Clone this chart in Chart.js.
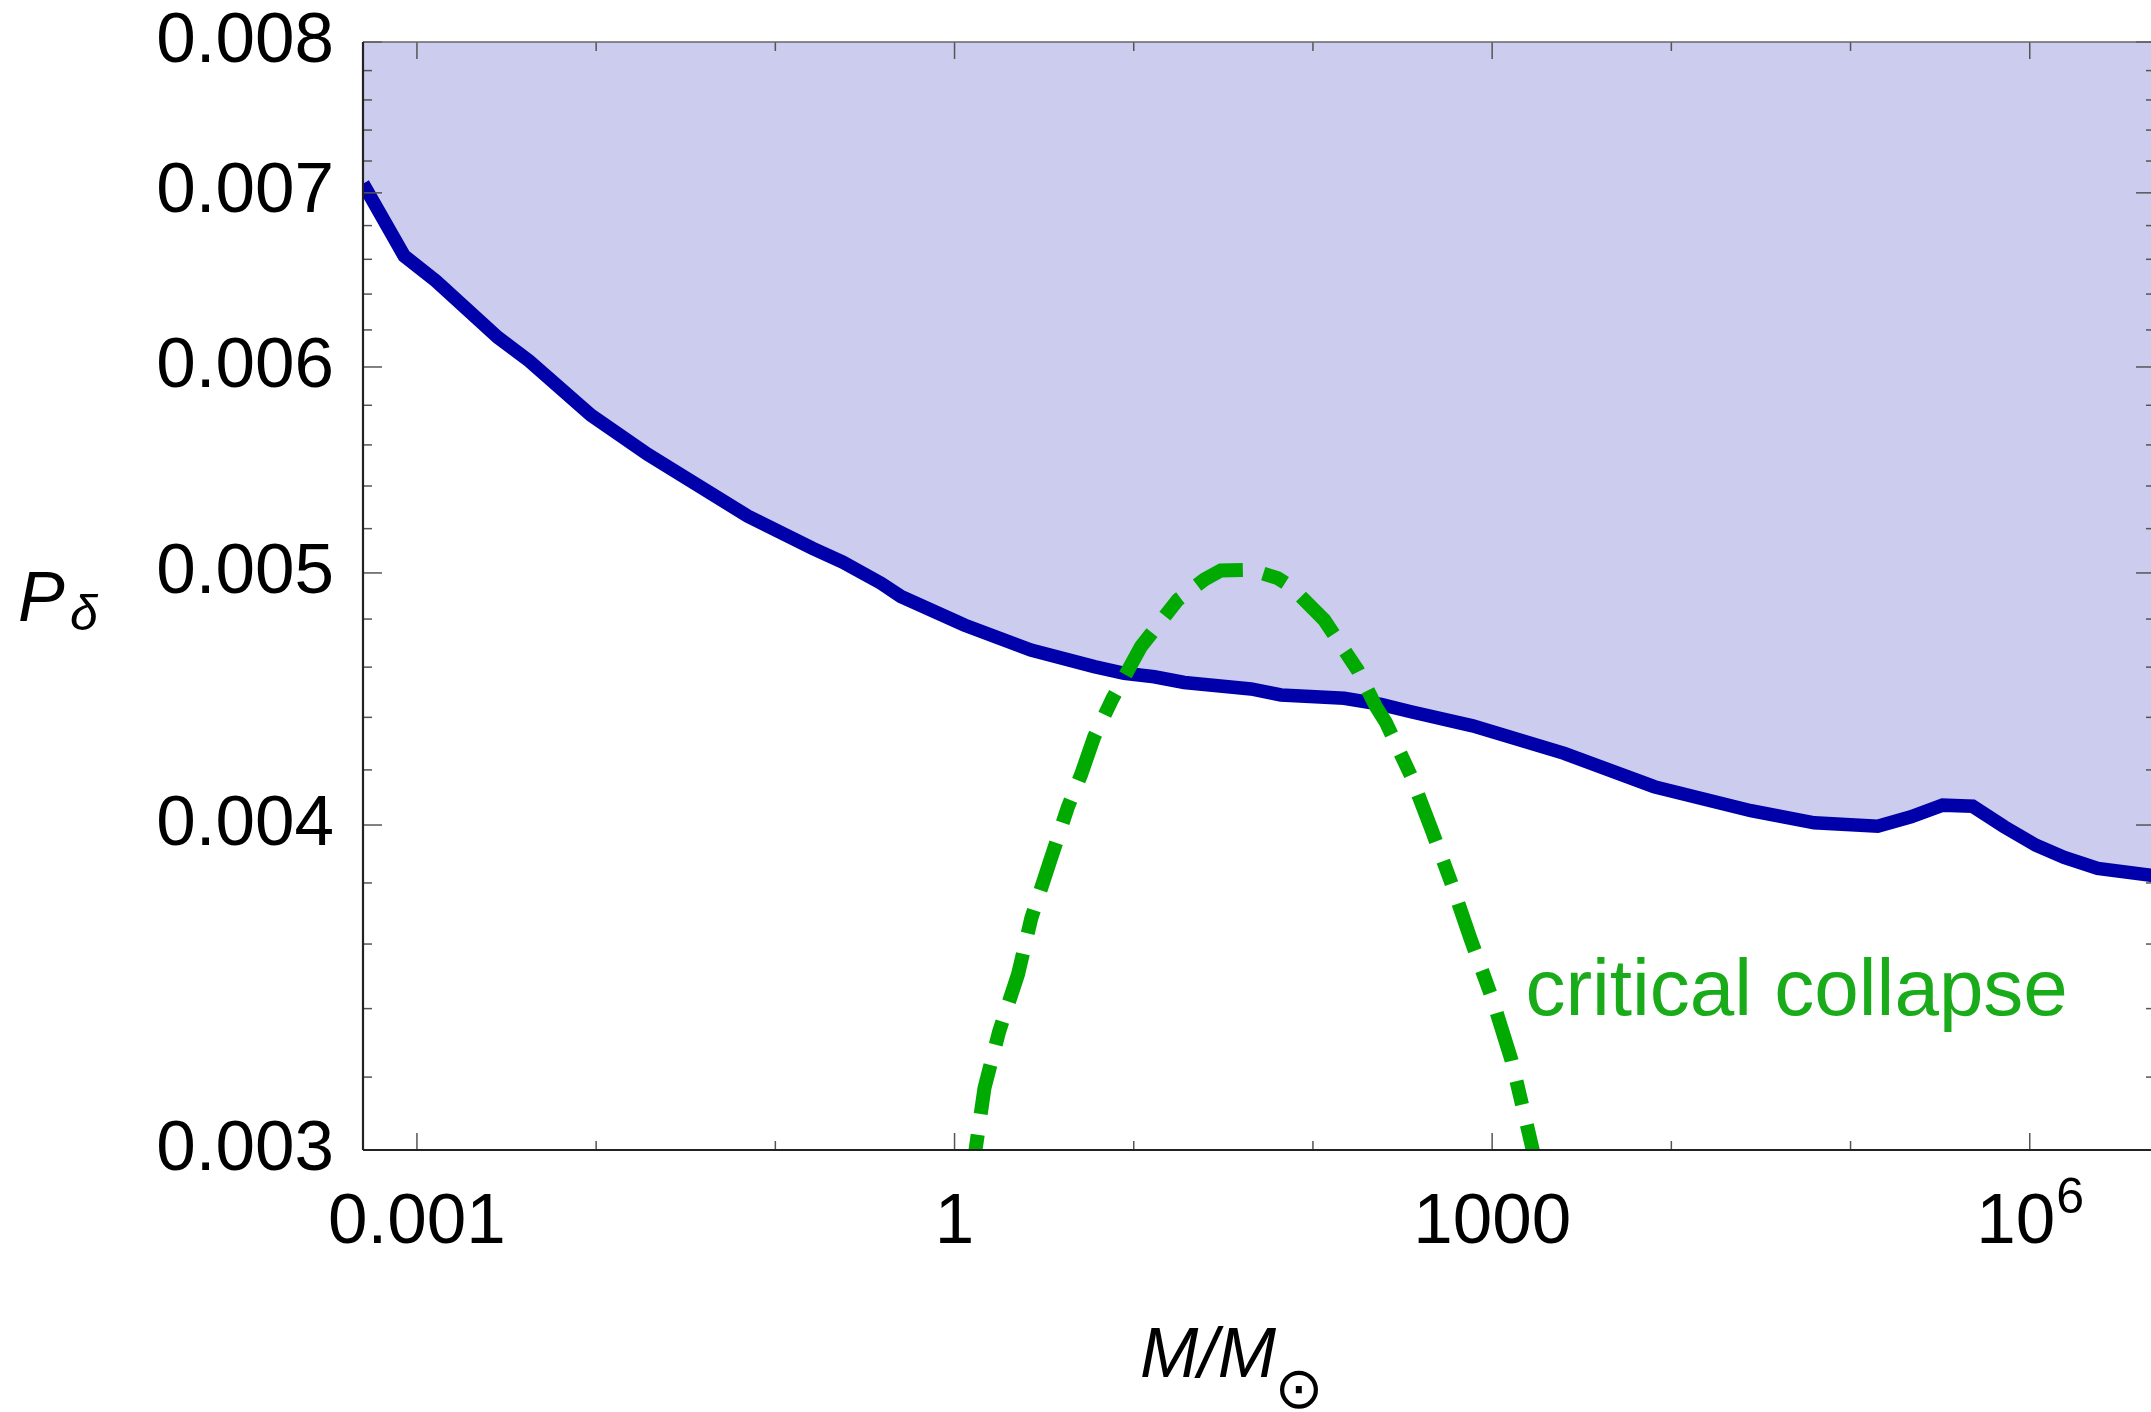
<!DOCTYPE html>
<html>
<head>
<meta charset="utf-8">
<script src="https://cdn.jsdelivr.net/npm/chart.js@4.4.1/dist/chart.umd.min.js"></script>
<style>
  html, body { margin: 0; padding: 0; background: #fff; overflow: hidden; }
  #wrap { width: 2155px; height: 1412px; }
</style>
</head>
<body>
<div id="wrap"><canvas id="chart"></canvas></div>
<script>
// threshold curve (blue, region above it is excluded)
const thresholdMass = [5.0e-4, 8.49e-4, 1.276e-3, 2.82e-3, 4.23e-3, 9.35e-3, 0.01938, 0.03308, 0.07005,
  0.1615, 0.2375, 0.3884, 0.5022, 1.133, 2.669, 6.02, 8.85, 13.02, 19.13, 45.1, 66.3, 149.5, 239.6,
  352.4, 778.3, 2526, 8029, 27810, 62720, 141700, 217300, 326600, 480200, 720500, 1.083e6, 1.558e6,
  2.393e6, 5.0e6];
const thresholdP = [0.007057, 0.006620, 0.006475, 0.006160, 0.006032, 0.005750, 0.005554, 0.005429, 0.005258,
  0.005110, 0.005048, 0.004955, 0.004897, 0.004775, 0.004670, 0.004602, 0.004575, 0.004561, 0.004538,
  0.004512, 0.004488, 0.004475, 0.004451, 0.004422, 0.004367, 0.004262, 0.004138, 0.004051, 0.004008,
  0.003996, 0.004029, 0.004071, 0.004067, 0.003994, 0.003929, 0.003887, 0.003849, 0.003824];

// critical collapse curve (green, dashed)
const criticalMass = [1.268, 1.310, 1.469, 1.774, 2.259, 2.683, 3.373, 4.294, 5.075, 6.02, 7.625, 10.97,
  17.58, 24.74, 30.66, 45.08, 63.5, 75.4, 115.7, 177.6, 224.7, 255.6, 352.4, 459.6, 594.3, 761.6, 997.5,
  1281, 1487, 1683, 1774];
const criticalP = [0.002954, 0.003001, 0.003169, 0.003332, 0.003504, 0.003684, 0.003865, 0.004065, 0.004181,
  0.004325, 0.004475, 0.004684, 0.004882, 0.004970, 0.005011, 0.005014, 0.004977, 0.004940, 0.004796,
  0.004588, 0.004442, 0.004380, 0.004178, 0.003983, 0.003797, 0.003613, 0.003433, 0.003249, 0.003112,
  0.003001, 0.002954];

// axes
const xMajorTicks = [1e-3, 1, 1e3, 1e6];
const xMinorTicks = [1e-2, 1e-1, 10, 100, 1e4, 1e5];
const xTickLabels = ['0.001', '1', '1000', '10^6'];
const yMajorTicks = [0.003, 0.004, 0.005, 0.006, 0.007, 0.008];
const yMinorTicks = [0.0032, 0.0034, 0.0036, 0.0038, 0.0042, 0.0044, 0.0046, 0.0048, 0.0052, 0.0054,
  0.0056, 0.0058, 0.0062, 0.0064, 0.0066, 0.0068, 0.0072, 0.0074, 0.0076, 0.0078];

const FONT = '"Liberation Sans", Arial, Helvetica, sans-serif';

function toPoints(xs, ys) {
  return xs.map((v, i) => ({ x: v, y: ys[i] }));
}

// inward ticks on all four sides plus the frame, labels drawn by hand
const frameTicks = {
  id: 'frameTicks',
  afterDatasetsDraw(chart) {
    const { ctx, chartArea: a, scales: { x, y } } = chart;
    ctx.save();
    ctx.strokeStyle = '#555';
    ctx.lineWidth = 1.5;
    const seg = (x1, y1, x2, y2) => { ctx.beginPath(); ctx.moveTo(x1, y1); ctx.lineTo(x2, y2); ctx.stroke(); };
    const xt = (v, len) => {
      const px = x.getPixelForValue(v);
      seg(px, a.bottom, px, a.bottom - len);
      seg(px, a.top, px, a.top + len);
    };
    const yt = (v, len) => {
      const py = y.getPixelForValue(v);
      seg(a.left, py, a.left + len, py);
      seg(a.right, py, a.right - len, py);
    };
    xMajorTicks.forEach(v => xt(v, 17));
    xMinorTicks.forEach(v => xt(v, 9));
    yMajorTicks.forEach(v => yt(v, 19));
    yMinorTicks.forEach(v => yt(v, 9));

    // frame
    ctx.strokeStyle = '#666';
    ctx.lineWidth = 1.6;
    seg(a.left, a.top, a.right, a.top);
    seg(a.right, a.top, a.right, a.bottom);
    ctx.strokeStyle = '#222';
    ctx.lineWidth = 2.2;
    seg(a.left, a.top, a.left, a.bottom);
    seg(a.left, a.bottom, a.right, a.bottom);
    ctx.restore();
  },
  afterDraw(chart) {
    const { ctx, chartArea: a, scales: { x, y } } = chart;
    ctx.save();
    ctx.fillStyle = '#000';
    ctx.textBaseline = 'alphabetic';

    // x tick labels
    xMajorTicks.forEach((v, i) => {
      const px = x.getPixelForValue(v);
      const lbl = xTickLabels[i];
      const base = a.bottom + 93;
      if (lbl.includes('^')) {
        const [b, e] = lbl.split('^');
        ctx.font = `71px ${FONT}`;
        const wb = ctx.measureText(b).width;
        ctx.font = `50px ${FONT}`;
        const we = ctx.measureText(e).width;
        const x0 = px - (wb + we) / 2;
        ctx.textAlign = 'left';
        ctx.font = `71px ${FONT}`;
        ctx.fillText(b, x0, base);
        ctx.font = `50px ${FONT}`;
        ctx.fillText(e, x0 + wb + 1, base - 30);
      } else {
        ctx.textAlign = 'center';
        ctx.font = `71px ${FONT}`;
        ctx.fillText(lbl, px, base);
      }
    });

    // axis titles
    ctx.textAlign = 'left';
    ctx.font = `italic 70px ${FONT}`;
    ctx.fillText('P', 18, 621);
    ctx.font = `italic 50px ${FONT}`;
    ctx.fillText('δ', 70, 630);

    ctx.font = `italic 70px ${FONT}`;
    ctx.fillText('M/M', 1140, 1377);
    ctx.font = '58px "DejaVu Sans", sans-serif';
    ctx.textAlign = 'center';
    ctx.textBaseline = 'middle';
    ctx.fillText('⊙', 1299, 1393);

    // curve label
    ctx.textAlign = 'left';
    ctx.textBaseline = 'alphabetic';
    ctx.fillStyle = '#1aab1a';
    ctx.font = `80px ${FONT}`;
    ctx.fillText('critical collapse', x.getPixelForValue(1534), y.getPixelForValue(0.003382));
    ctx.restore();
  }
};

new Chart(document.getElementById('chart'), {
  type: 'line',
  data: {
    datasets: [
      {
        label: 'critical collapse',
        data: toPoints(criticalMass, criticalP),
        borderColor: '#00aa00',
        borderWidth: 14,
        borderDash: [50, 21, 24, 21],
        borderDashOffset: 62,
        borderCapStyle: 'butt',
        fill: false,
        pointRadius: 0,
        tension: 0,
        order: 0
      },
      {
        label: 'threshold',
        data: toPoints(thresholdMass, thresholdP),
        borderColor: '#0000aa',
        borderWidth: 13.5,
        backgroundColor: '#ccccee',
        fill: 'end',
        pointRadius: 0,
        tension: 0,
        order: 1
      }
    ]
  },
  options: {
    responsive: true,
    maintainAspectRatio: false,
    animation: false,
    layout: { padding: { top: 42, left: 0, right: 0, bottom: 0 } },
    plugins: { legend: { display: false }, tooltip: { enabled: false } },
    scales: {
      x: {
        type: 'logarithmic',
        min: 5e-4,
        max: 5e6,
        grid: { display: false, drawTicks: false },
        border: { display: false },
        ticks: { display: false },
        afterFit: (s) => { s.height = 262; s.paddingLeft = 0; s.paddingRight = 0; }
      },
      y: {
        type: 'logarithmic',
        min: 0.003,
        max: 0.008,
        grid: { display: false, drawTicks: false },
        border: { display: false },
        ticks: {
          color: '#000',
          padding: 29,
          font: { family: FONT, size: 71 },
          callback: (v) => Number(v).toFixed(3)
        },
        afterBuildTicks: (s) => { s.ticks = yMajorTicks.map(v => ({ value: v })); },
        afterFit: (s) => { s.width = 363; s.paddingTop = 0; s.paddingBottom = 0; }
      }
    }
  },
  plugins: [frameTicks]
});
</script>
</body>
</html>
